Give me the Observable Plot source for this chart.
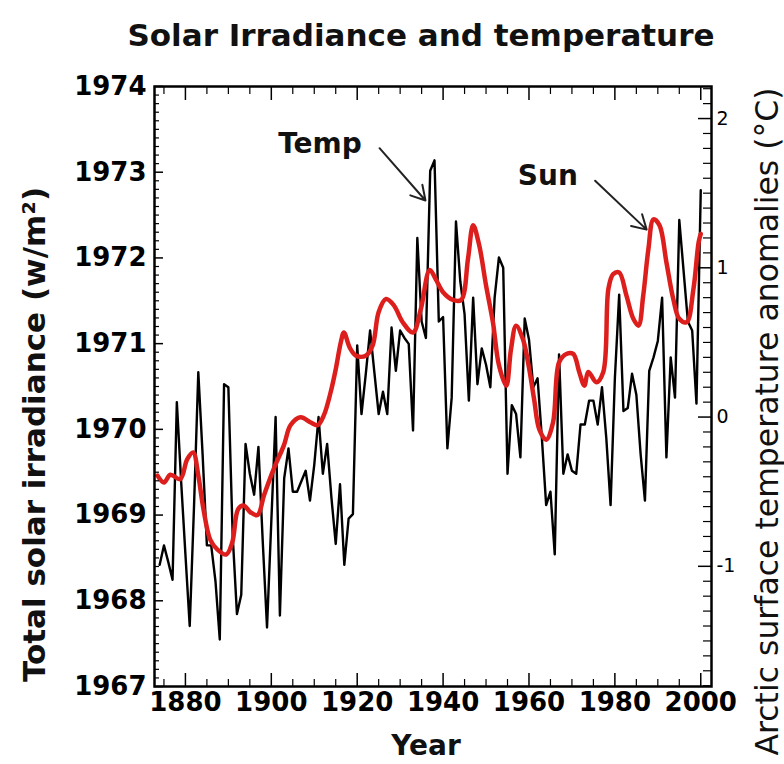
<!DOCTYPE html>
<html><head><meta charset="utf-8">
<script src="https://cdn.jsdelivr.net/npm/d3@7"></script>
<script src="https://cdn.jsdelivr.net/npm/@observablehq/plot@0.6"></script>
<style>body{margin:0;background:#fff;} #chart{width:784px;height:764px;}</style>
</head><body><div id="chart"></div>
<script>
// ---- Data ----
const titleText = "Solar Irradiance and temperature";
const leftTitle = "Total solar irradiance (w/m²)";
const rightTitle = "Arctic surface temperature anomalies (°C)";
const xTitle = "Year";

// Arctic temperature anomalies (°C), annual, starting 1874
const tempStartYear = 1874;
const tempValues = [
  -0.99,-0.86,-0.97,-1.09,0.10,-0.43,
  -0.92,-1.40,-0.60,0.30,-0.25,-0.86,-0.86,-1.10,-1.49,0.22,
  0.20,-0.79,-1.32,-1.19,-0.18,-0.38,-0.52,-0.20,-0.83,-1.41,
  -0.70,0.00,-1.33,-0.41,-0.21,-0.50,-0.50,-0.43,-0.36,-0.56,
  -0.32,0.00,-0.38,-0.18,-0.54,-0.85,-0.45,-0.99,-0.68,-0.65,
  0.48,0.02,0.29,0.58,0.30,0.02,0.17,0.02,0.60,0.31,
  0.58,0.53,0.49,-0.09,1.20,0.64,0.53,1.65,1.72,0.64,
  0.67,-0.21,0.13,1.31,0.91,0.69,0.11,0.80,0.22,0.46,
  0.35,0.20,0.80,1.07,1.00,-0.38,0.08,0.02,-0.27,0.66,
  0.52,0.20,0.26,-0.14,-0.59,-0.50,-0.92,0.42,-0.38,-0.25,
  -0.36,-0.38,-0.05,-0.05,0.11,0.11,-0.05,0.20,-0.14,-0.59,
  0.26,0.82,0.04,0.06,0.29,0.15,-0.25,-0.56,0.31,0.40,
  0.51,0.80,-0.27,0.40,0.13,1.32,0.98,0.64,0.58,0.09,
  1.52
];

// Total solar irradiance (left-axis units), smoothed curve samples
const sunYears = [1873.5,1875,1876.5,1878.8,1880.4,1881.8,1883,1884.2,1885.8,1887.4,1889.5,1890.9,1892.3,1893.6,1895.2,1896.8,1898.3,1900.5,1902.9,1904.5,1906.8,1909.2,1910.8,1912.2,1913.8,1915,1916.2,1916.9,1918.3,1919.7,1922,1923.6,1925,1926.7,1928.5,1930.6,1933,1934.8,1936.9,1938.3,1940,1942.3,1944.2,1945.8,1947,1948.4,1950,1951.6,1953,1954.7,1955.8,1957,1958.6,1960,1961.2,1962.4,1964,1965.6,1967,1968.7,1970.3,1971.7,1972.9,1973.8,1975.7,1977.3,1978.5,1979.6,1981,1982.7,1984.3,1985.5,1986.6,1987.8,1989,1990.4,1992,1993.6,1995,1996.7,1998.3,1999.5,2000];
const sunValues = [1969.46,1969.38,1969.47,1969.42,1969.65,1969.73,1969.46,1969.07,1968.71,1968.60,1968.54,1968.68,1969.07,1969.11,1969.03,1969.00,1969.23,1969.53,1969.81,1970.05,1970.14,1970.08,1970.05,1970.16,1970.43,1970.70,1971.02,1971.13,1970.95,1970.86,1970.86,1970.98,1971.37,1971.52,1971.45,1971.25,1971.13,1971.40,1971.86,1971.75,1971.60,1971.51,1971.51,1971.99,1972.38,1972.15,1971.68,1971.25,1970.75,1970.51,1970.93,1971.21,1971.05,1970.72,1970.35,1970.00,1969.88,1970.08,1970.78,1970.88,1970.88,1970.67,1970.51,1970.67,1970.55,1970.67,1971.64,1971.81,1971.83,1971.56,1971.29,1971.21,1971.56,1972.10,1972.45,1972.38,1971.95,1971.52,1971.29,1971.25,1971.64,1972.18,1972.28];

// Axis ticks
const leftTicks = [1967,1968,1969,1970,1971,1972,1973,1974];
const rightTicks = [-1,0,1,2];
const xTicks = [1880,1900,1920,1940,1960,1980,2000];
const xMinorTicks = [1875,1885,1890,1895,1905,1910,1915,1925,1930,1935,1945,1950,1955,1965,1970,1975,1985,1990,1995];

// Annotations
const noteLabels = ["Temp","Sun"];
const noteYears = [1901.6,1957.4];
const noteValues = [1973.33,1972.95];
const arrowFrom = [[1925.2,1973.28],[1975.4,1972.90]];
const arrowTo = [[1935.9,1972.67],[1987.4,1972.33]];

// ---- Build tables ----
// Right axis (°C) aligned to left axis units: left = T0 + TK * temp
const T0 = 1970.1435, TK = 1.7413;
const toLeft = t => T0 + TK * t;
const temp = tempValues.map((t, i) => ({year: tempStartYear + i, t}));
const sun = sunYears.map((year, i) => ({year, s: sunValues[i]}));
const notes = noteLabels.map((label, i) => ({label, year: noteYears[i], s: noteValues[i]}));
const arrows = arrowFrom.map((a, i) => ({x1: a[0], y1: a[1], x2: arrowTo[i][0], y2: arrowTo[i][1]}));
const leftMinor = d3.range(19670, 19741).map(v => v / 10).filter(v => !leftTicks.includes(v));
const rightMinor = d3.range(-18, 23).filter(v => v % 10 !== 0).map(v => toLeft(v / 10));

const chart = Plot.plot({
  width: 784, height: 764,
  marginLeft: 154, marginRight: 73, marginTop: 86, marginBottom: 78,
  style: {fontFamily: "DejaVu Sans", background: "white", color: "black", overflow: "visible"},
  x: {domain: [1872.8, 2002.5], axis: null},
  y: {domain: [1967, 1974], axis: null},
  marks: [
    Plot.line(temp, {x: "year", y: d => toLeft(d.t), stroke: "black", strokeWidth: 2.4}),
    Plot.line(sun, {x: "year", y: "s", stroke: "#dc1f1c", strokeWidth: 4.5, curve: "catmull-rom"}),
    Plot.frame({stroke: "black", strokeWidth: 2.5}),
    // left axis
    Plot.axisY({anchor: "left", ticks: leftTicks, tickSize: 0, tickPadding: 8, fontSize: 26, fontWeight: "bold", tickFormat: d => String(d), label: null}),
    Plot.axisY({anchor: "left", ticks: leftTicks, tickSize: -9, fill: "none", strokeWidth: 1.5, label: null}),
    Plot.axisY({anchor: "left", ticks: leftMinor, tickSize: -5, fill: "none", strokeWidth: 1.2, label: null}),
    // right axis
    Plot.axisY({anchor: "right", ticks: rightTicks.map(toLeft), tickSize: 0, tickPadding: 5, fontSize: 19, tickFormat: d => String(Math.round((d - T0) / TK)), label: null}),
    Plot.axisY({anchor: "right", ticks: rightTicks.map(toLeft), tickSize: -14, fill: "none", strokeWidth: 1.5, label: null}),
    Plot.axisY({anchor: "right", ticks: rightMinor, tickSize: -9, fill: "none", strokeWidth: 1.2, label: null}),
    // bottom axis
    Plot.axisX({anchor: "bottom", ticks: xTicks, tickSize: 0, tickPadding: 6, fontSize: 26, fontWeight: "bold", tickFormat: d => String(d), label: null}),
    Plot.axisX({anchor: "bottom", ticks: xTicks, tickSize: -13, fill: "none", strokeWidth: 1.5, label: null}),
    Plot.axisX({anchor: "bottom", ticks: xMinorTicks, tickSize: -7, fill: "none", strokeWidth: 1.2, label: null}),
    // top ticks
    Plot.axisX({anchor: "top", ticks: xTicks, tickSize: -13, fill: "none", strokeWidth: 1.5, label: null}),
    Plot.axisX({anchor: "top", ticks: xMinorTicks, tickSize: -7, fill: "none", strokeWidth: 1.2, label: null}),
    // titles
    Plot.text([titleText], {frameAnchor: "top", dx: -12, dy: -63, textAnchor: "middle", fontSize: 31, fontWeight: "bold", fill: "#111"}),
    Plot.text([xTitle], {frameAnchor: "bottom", dx: -7, dy: 68, textAnchor: "middle", fontSize: 28, fontWeight: "bold", fill: "#111"}),
    Plot.text([leftTitle], {frameAnchor: "left", dx: -119, dy: 48, rotate: -90, textAnchor: "middle", fontSize: 31, fontWeight: "bold", fill: "#111"}),
    Plot.text([rightTitle], {frameAnchor: "right", dx: 56, dy: 35, rotate: -90, textAnchor: "middle", fontSize: 31.5, fill: "#111"}),
    // annotations
    Plot.text(notes, {x: "year", y: "s", text: "label", textAnchor: "start", fontSize: 28, fontWeight: "bold", fill: "#111"}),
    Plot.arrow(arrows, {x1: "x1", y1: "y1", x2: "x2", y2: "y2", stroke: "#222", strokeWidth: 2, headLength: 12})
  ]
});
document.getElementById("chart").append(chart);
</script>
</body></html>
